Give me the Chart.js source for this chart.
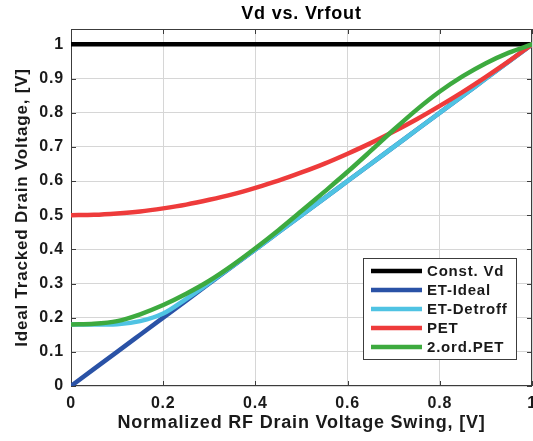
<!DOCTYPE html>
<html>
<head>
<meta charset="utf-8">
<script src="https://cdn.jsdelivr.net/npm/chart.js@4.4.0/dist/chart.umd.min.js"></script>
<style>
    body { margin: 0; background: #ffffff; }
    #grafico { display: block; }
</style>
</head>
<body>
<canvas id="grafico" width="533" height="441"></canvas>
<script>
// eixo x: excursao normalizada da tensao de dreno
var xs = [0, 0.05, 0.1, 0.15, 0.2, 0.25, 0.3, 0.35, 0.4, 0.45, 0.5,
          0.55, 0.6, 0.65, 0.7, 0.75, 0.8, 0.85, 0.9, 0.95, 1];

// tensao de dreno rastreada para cada esquema
var constVd = [1, 1, 1, 1, 1, 1, 1, 1, 1, 1, 1,
               1, 1, 1, 1, 1, 1, 1, 1, 1, 1];
var etIdeal = [0, 0.05, 0.1, 0.15, 0.2, 0.25, 0.3, 0.35, 0.4, 0.45, 0.5,
               0.55, 0.6, 0.65, 0.7, 0.75, 0.8, 0.85, 0.9, 0.95, 1];
var etDetroff = [0.18, 0.18, 0.181, 0.19, 0.212, 0.255, 0.302, 0.351, 0.4, 0.45, 0.5,
                 0.55, 0.6, 0.65, 0.7, 0.75, 0.8, 0.85, 0.9, 0.95, 1];
var pet = [0.5, 0.501, 0.505, 0.511, 0.52, 0.531, 0.545, 0.561, 0.58, 0.601, 0.625,
           0.651, 0.68, 0.711, 0.745, 0.781, 0.82, 0.861, 0.905, 0.951, 1];
var pet2 = [0.18, 0.182, 0.19, 0.21, 0.237, 0.27, 0.308, 0.353, 0.403, 0.456, 0.512,
            0.569, 0.627, 0.688, 0.75, 0.809, 0.862, 0.907, 0.945, 0.976, 1];

var nomes = ['Const. Vd', 'ET-Ideal', 'ET-Detroff', 'PET', '2.ord.PET'];
var series = [constVd, etIdeal, etDetroff, pet, pet2];
var cores = ['#000000', '#2a52a6', '#4fc3e3', '#ee3b3b', '#3daa3f'];

var xTicks = [0, 0.2, 0.4, 0.6, 0.8, 1];
var yTicks = [0, 0.1, 0.2, 0.3, 0.4, 0.5, 0.6, 0.7, 0.8, 0.9, 1];

var titulo = 'Vd vs. Vrfout';
var tituloX = 'Normalized RF Drain Voltage Swing, [V]';
var tituloY = 'Ideal Tracked Drain Voltage, [V]';

var fonte = "'Liberation Sans', Arial, Helvetica, sans-serif";
var corTexto = '#1a1a1a';

function pontos(valores) {
    var p = [];
    for (var i = 0; i < xs.length; i++) {
        p.push({x: xs[i], y: valores[i]});
    }
    return p;
}

var datasets = [];
for (var i = 0; i < series.length; i++) {
    datasets.push({
        label: nomes[i],
        data: pontos(series[i]),
        borderColor: cores[i],
        backgroundColor: cores[i],
        borderWidth: 4.5,
        pointRadius: 0,
        cubicInterpolationMode: 'monotone',
        borderCapStyle: 'round',
        // ultima serie fica por cima
        order: series.length - 1 - i
    });
}

function rotulo(v) {
    return String(Math.round(v * 10) / 10);
}

// moldura do eixo, marcas internas, titulo e legenda
var moldura = {
    id: 'moldura',
    beforeDraw: function (chart) {
        // texto um pouco mais espaçado
        chart.ctx.letterSpacing = '0.8px';
    },
    beforeDatasetsDraw: function (chart) {
        var a = chart.chartArea;
        var ctx = chart.ctx;
        var sx = chart.scales.x, sy = chart.scales.y;
        ctx.save();
        ctx.strokeStyle = '#3c3c3c';
        ctx.lineWidth = 1;
        ctx.strokeRect(a.left + 0.5, a.top + 0.5, a.right - a.left - 1, a.bottom - a.top - 1);
        ctx.beginPath();
        for (var i = 0; i < xTicks.length; i++) {
            var px = Math.round(sx.getPixelForValue(xTicks[i])) + 0.5;
            ctx.moveTo(px, a.bottom); ctx.lineTo(px, a.bottom - 5);
            ctx.moveTo(px, a.top); ctx.lineTo(px, a.top + 5);
        }
        for (var j = 0; j < yTicks.length; j++) {
            var py = Math.round(sy.getPixelForValue(yTicks[j])) + 0.5;
            ctx.moveTo(a.left, py); ctx.lineTo(a.left + 5, py);
            ctx.moveTo(a.right, py); ctx.lineTo(a.right - 5, py);
        }
        ctx.stroke();
        ctx.restore();
    },
    afterDraw: function (chart) {
        var a = chart.chartArea;
        var ctx = chart.ctx;
        ctx.save();
        ctx.fillStyle = '#000000';
        ctx.font = 'bold 18px ' + fonte;
        ctx.textAlign = 'center';
        ctx.textBaseline = 'middle';
        ctx.fillText(titulo, (a.left + a.right) / 2, 14);

        // legenda no canto inferior direito
        var lx = 363, ly = 258, lw = 153, lh = 101;
        ctx.fillStyle = '#ffffff';
        ctx.fillRect(lx, ly, lw, lh);
        ctx.strokeStyle = '#3c3c3c';
        ctx.lineWidth = 1;
        ctx.strokeRect(lx + 0.5, ly + 0.5, lw, lh);
        ctx.font = 'bold 15px ' + fonte;
        ctx.textAlign = 'left';
        var ds = chart.data.datasets;
        for (var i = 0; i < ds.length; i++) {
            var y = 271 + i * 19;
            ctx.strokeStyle = ds[i].borderColor;
            ctx.lineWidth = 4.5;
            ctx.beginPath();
            ctx.moveTo(371, y);
            ctx.lineTo(422, y);
            ctx.stroke();
            ctx.fillStyle = corTexto;
            ctx.fillText(ds[i].label, 427, y + 1);
        }
        ctx.restore();
    }
};

var ctx = document.getElementById('grafico');
var grafico = new Chart(ctx, {
    type: 'line',
    data: {datasets: datasets},
    options: {
        responsive: false,
        animation: false,
        devicePixelRatio: 1,
        layout: {
            autoPadding: false,
            padding: {top: 29, right: 1, bottom: 0, left: 0}
        },
        plugins: {
            legend: {display: false},
            tooltip: {enabled: false}
        },
        scales: {
            x: {
                type: 'linear',
                min: 0,
                max: 1,
                afterFit: function (scale) {
                    scale.height = 55;
                    scale.paddingLeft = 0;
                    scale.paddingRight = 0;
                },
                afterBuildTicks: function (scale) {
                    scale.ticks = xTicks.map(function (v) { return {value: v}; });
                },
                grid: {color: '#d6d6d6', drawTicks: false},
                border: {display: false},
                ticks: {
                    padding: 8,
                    color: corTexto,
                    maxRotation: 0,
                    autoSkip: false,
                    font: {family: fonte, size: 16, weight: 'bold'},
                    callback: rotulo
                },
                title: {
                    display: true,
                    text: tituloX,
                    color: corTexto,
                    padding: {top: 0, bottom: 7},
                    font: {family: fonte, size: 18, weight: 'bold'}
                }
            },
            y: {
                type: 'linear',
                min: 0,
                max: 1.045,
                afterFit: function (scale) {
                    scale.width = 71;
                    scale.paddingTop = 0;
                    scale.paddingBottom = 0;
                },
                afterBuildTicks: function (scale) {
                    scale.ticks = yTicks.map(function (v) { return {value: v}; });
                },
                grid: {color: '#d6d6d6', drawTicks: false},
                border: {display: false},
                ticks: {
                    padding: 7,
                    color: corTexto,
                    autoSkip: false,
                    font: {family: fonte, size: 16, weight: 'bold'},
                    callback: rotulo
                },
                title: {
                    display: true,
                    text: tituloY,
                    color: corTexto,
                    padding: {top: 12, bottom: 0},
                    font: {family: fonte, size: 17, weight: 'bold'}
                }
            }
        }
    },
    plugins: [moldura]
});
</script>
</body>
</html>
